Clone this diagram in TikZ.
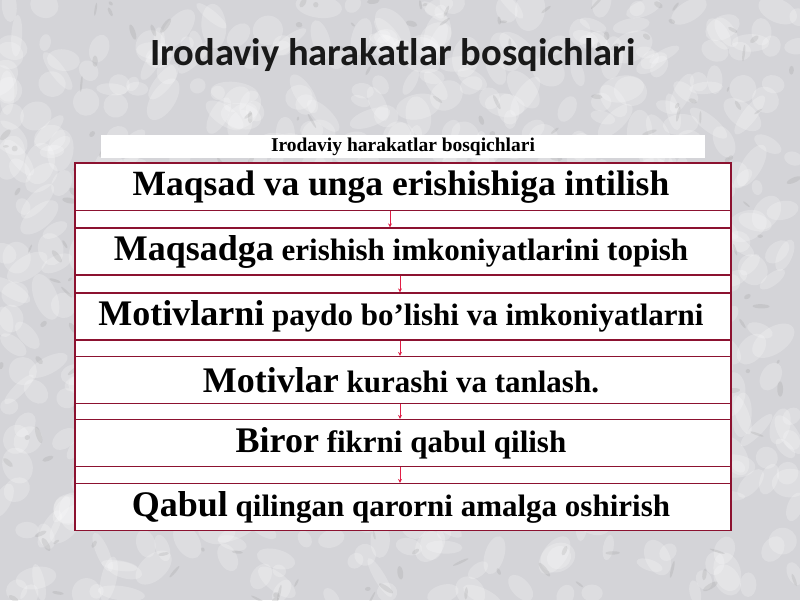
\documentclass[tikz,border=0pt]{standalone}
\usepackage{fontspec}
\setmainfont{Liberation Serif}
\newfontfamily\titlefont{Carlito}
\usetikzlibrary{arrows.meta}
\definecolor{boxred}{RGB}{140,18,48}
\definecolor{arrred}{RGB}{225,30,70}
\definecolor{marble}{RGB}{212,212,216}
\newcommand{\keyword}[1]{{\rmfamily\bfseries\fontsize{36}{39}\selectfont #1}}
\begin{document}
\begin{tikzpicture}[x=1pt, y=-1pt,
  stage/.style={draw=boxred, fill=white, line width=1.2pt, minimum width=656pt, minimum height=47pt, inner sep=0pt, font=\rmfamily\bfseries\fontsize{31}{34}\selectfont, execute at end node=\kern4pt},
  link/.style={draw=arrred, line width=0.7pt, -{Stealth[length=4pt,width=4pt]}}]
\useasboundingbox (0,0) rectangle (800,600);
\fill[marble] (0,0) rectangle (800,600);
\pgfmathsetseed{7}
\foreach \i in {1,...,700}{
  \pgfmathsetmacro{\px}{rnd*800}
  \pgfmathsetmacro{\py}{rnd*600}
  \pgfmathsetmacro{\rx}{6+rnd*18}
  \pgfmathsetmacro{\ry}{5+rnd*10}
  \pgfmathsetmacro{\ang}{rnd*180}
  \fill[white, opacity=0.22, rotate around={\ang:(\px,\py)}] (\px,\py) ellipse ({\rx} and {\ry});
}
\foreach \i in {1,...,300}{
  \pgfmathsetmacro{\px}{rnd*800}
  \pgfmathsetmacro{\py}{rnd*600}
  \pgfmathsetmacro{\rx}{2+rnd*7}
  \pgfmathsetmacro{\ry}{1+rnd*2}
  \pgfmathsetmacro{\ang}{rnd*180}
  \fill[gray, opacity=0.16, rotate around={\ang:(\px,\py)}] (\px,\py) ellipse ({\rx} and {\ry});
}

\node (title) at (393,55) [text=black!90, font=\titlefont\bfseries\fontsize{38.5}{42}\selectfont] {Irodaviy harakatlar bosqichlari};
\node (banner) at (403,146.5) [fill=white, minimum width=604pt, minimum height=23pt, inner sep=0pt, font=\rmfamily\bfseries\fontsize{19.5}{21}\selectfont] {Irodaviy harakatlar bosqichlari};

\node (panel) at (403,346.5) [draw=boxred, fill=white, line width=1.2pt, minimum width=656pt, minimum height=367pt] {};
\node (s1) at (403,187) [stage] {\fontsize{35.5}{38}\selectfont Maqsad va unga erishishiga intilish};
\node (s2) at (403,251.5) [stage] {\keyword{Maqsadga} erishish imkoniyatlarini topish};
\node (s3) at (403,316.5) [stage] {\keyword{Motivlarni} paydo bo’lishi va imkoniyatlarni};
\node (s4) at (403,380) [stage] {\keyword{Motivlar} kurashi va tanlash.};
\node (s5) at (403,443) [stage] {\keyword{Biror} fikrni qabul qilish};
\node (s6) at (403,507) [stage] {\keyword{Qabul} qilingan qarorni amalga oshirish};

\draw[link] ([xshift=-13pt]s1.south) to ([xshift=-13pt]s2.north);
\draw[link] ([xshift=-3pt]s2.south) to ([xshift=-3pt]s3.north);
\draw[link] ([xshift=-3pt]s3.south) to ([xshift=-3pt]s4.north);
\draw[link] ([xshift=-3pt]s4.south) to ([xshift=-3pt]s5.north);
\draw[link] ([xshift=-3pt]s5.south) to ([xshift=-3pt]s6.north);
\end{tikzpicture}
\end{document}
